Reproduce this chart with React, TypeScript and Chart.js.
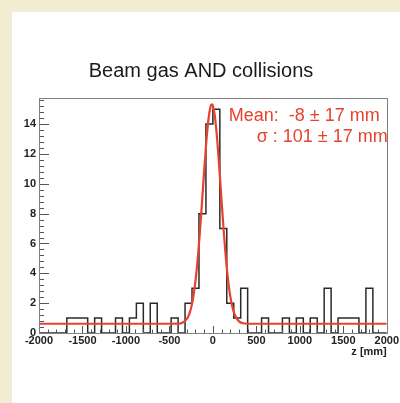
import React, { useEffect, useRef } from "react";
import { Chart, registerables } from "chart.js";

Chart.register(...registerables);

const TITLE = "Beam gas AND collisions";
const X_LABEL = "z [mm]";
const FIT_TEXT = ["Mean:  -8 ± 17 mm", "σ : 101 ± 17 mm"];

// Histogram: 50 bins of 80 mm from -2000 to 2000
const BIN_START = -2000;
const BIN_WIDTH = 80;
const COUNTS = [
  0, 0, 0, 0, 1, 1, 1, 0, 1, 0,
  0, 1, 0, 1, 2, 0, 2, 0, 0, 1,
  0, 2, 3, 8, 14, 15, 7, 2, 1, 3,
  0, 0, 1, 0, 0, 1, 0, 1, 0, 1,
  0, 3, 0, 1, 1, 1, 0, 3, 0, 0,
];

// Fit curve
const FIT_X = [-2000, -500, -400, -350, -300, -275, -250, -225, -200, -175, -150, -125, -100, -75, -50, -30, -12, 0, 25, 50, 75, 100, 125, 150, 175, 200, 225, 250, 300, 350, 400, 500, 2000];
const FIT_Y = [0.62, 0.62, 0.63, 0.69, 0.94, 1.22, 1.69, 2.42, 3.5, 4.93, 6.72, 8.77, 10.9, 12.86, 14.37, 15.1, 15.32, 15.22, 14.42, 12.92, 10.98, 8.85, 6.8, 4.99, 3.54, 2.46, 1.72, 1.24, 0.78, 0.65, 0.62, 0.62, 0.62];

const X_TICKS = [-2000, -1500, -1000, -500, 0, 500, 1000, 1500, 2000];
const Y_TICKS = [0, 2, 4, 6, 8, 10, 12, 14];
const X_MIN = -2000;
const X_MAX = 2000;
const Y_MAX = 15.75;

const FONT = "'Liberation Sans', Arial, Helvetica, sans-serif";
const RED = "#e5432f";

export default function App() {
  const ref = useRef<HTMLCanvasElement>(null);

  useEffect(() => {
    if (!ref.current) return;

    const histData = COUNTS.map((c, i) => ({ x: BIN_START + i * BIN_WIDTH, y: c }));
    histData.push({ x: BIN_START + COUNTS.length * BIN_WIDTH, y: COUNTS[COUNTS.length - 1] });
    const fitData = FIT_X.map((x, i) => ({ x, y: FIT_Y[i] }));

    const decor = {
      id: "decor",
      afterDraw(chart: any) {
        const { ctx, chartArea: a, scales } = chart;
        const xs = scales.x;
        const ys = scales.y;
        ctx.save();
        // ticks inside frame
        ctx.strokeStyle = "#555";
        ctx.lineWidth = 1;
        ctx.beginPath();
        for (let i = 0; i * 0.4 <= Y_MAX + 1e-9; i++) {
          const v = i * 0.4;
          const py = Math.round(ys.getPixelForValue(v)) + 0.5;
          const len = i % 5 === 0 ? 10 : 5;
          ctx.moveTo(a.left, py);
          ctx.lineTo(a.left + len, py);
        }
        for (let v = X_MIN; v <= X_MAX; v += 100) {
          const px = Math.round(xs.getPixelForValue(v)) + 0.5;
          const len = v % 500 === 0 ? 7 : 3.5;
          ctx.moveTo(px, a.bottom);
          ctx.lineTo(px, a.bottom - len);
        }
        ctx.stroke();
        // frame
        ctx.strokeStyle = "#808080";
        ctx.lineWidth = 1;
        ctx.strokeRect(Math.round(a.left) + 0.5, Math.round(a.top) + 0.5, Math.round(a.width), Math.round(a.height));

        // title
        ctx.fillStyle = "#1a1a1a";
        ctx.font = `20px ${FONT}`;
        ctx.textAlign = "center";
        ctx.textBaseline = "middle";
        ctx.fillText(TITLE, chart.width / 2 + 1, a.top - 27);

        // fit text
        ctx.fillStyle = RED;
        ctx.font = `18px ${FONT}`;
        ctx.textAlign = "right";
        ctx.fillText(FIT_TEXT[0], a.right - 7, a.top + 18);
        ctx.fillText(FIT_TEXT[1], a.right + 1, a.top + 39);

        // x label
        ctx.fillStyle = "#222";
        ctx.font = `bold 11px ${FONT}`;
        ctx.textAlign = "right";
        ctx.fillText(X_LABEL, a.right, a.bottom + 19);
        ctx.restore();
      },
    };

    const chart = new Chart(ref.current, {
      type: "line",
      data: {
        datasets: [
          {
            data: fitData,
            borderColor: RED,
            borderWidth: 2.2,
            pointRadius: 0,
            cubicInterpolationMode: "monotone",
            fill: false,
          },
          {
            data: histData,
            borderColor: "#2a2a2a",
            borderWidth: 1.5,
            pointRadius: 0,
            stepped: "before",
            fill: false,
          },
        ],
      },
      options: {
        responsive: false,
        animation: false,
        events: [],
        layout: { padding: { left: 0, top: 98, right: 13, bottom: 40 } },
        plugins: { legend: { display: false }, tooltip: { enabled: false }, title: { display: false } },
        scales: {
          x: {
            type: "linear",
            min: X_MIN,
            max: X_MAX,
            grid: { display: false, drawTicks: false },
            border: { display: false },
            afterBuildTicks: (s: any) => {
              s.ticks = X_TICKS.map((v) => ({ value: v }));
            },
            afterFit: (s: any) => {
              s.height = 30;
            },
            ticks: {
              autoSkip: false,
              maxRotation: 0,
              padding: 1,
              color: "#222",
              font: { family: FONT, size: 11, weight: "bold" },
              callback: (v: any) => String(v),
            },
          },
          y: {
            min: 0,
            max: Y_MAX,
            grid: { display: false, drawTicks: false },
            border: { display: false },
            afterBuildTicks: (s: any) => {
              s.ticks = Y_TICKS.map((v) => ({ value: v }));
            },
            afterFit: (s: any) => {
              s.width = 39;
            },
            ticks: {
              autoSkip: false,
              padding: 3,
              color: "#222",
              font: { family: FONT, size: 11, weight: "bold" },
              callback: (v: any) => String(v),
            },
          },
        },
      },
      plugins: [decor],
    } as any);

    return () => chart.destroy();
  }, []);

  return (
    <div style={{ position: "absolute", left: 0, top: 0, width: 400, height: 403, background: "#f3edd3", overflow: "hidden" }}>
      <div style={{ position: "absolute", left: 12, top: 12, width: 388, height: 391, background: "#ffffff" }} />
      <canvas ref={ref} width={400} height={403} style={{ position: "absolute", left: 0, top: 0, width: 400, height: 403 }} />
    </div>
  );
}
